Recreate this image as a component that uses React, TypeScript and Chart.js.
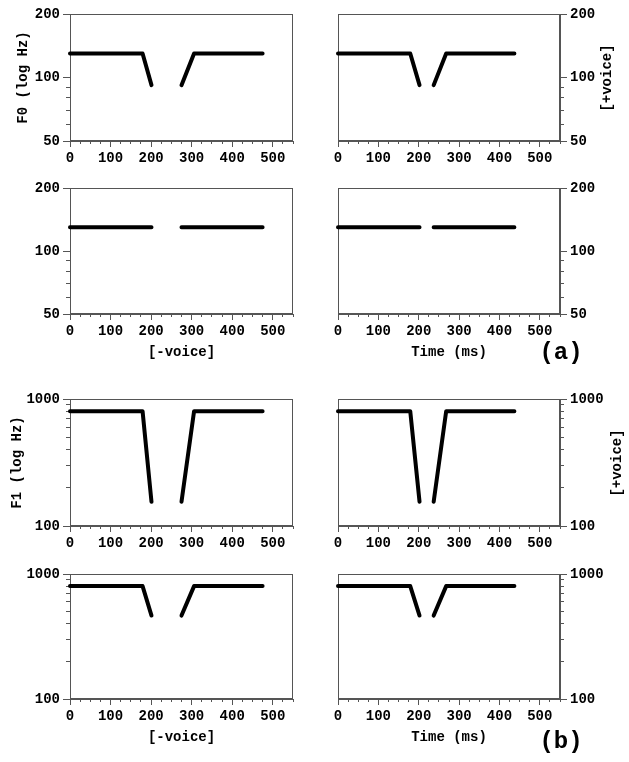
import React, { useEffect, useRef } from 'react';
import { Chart, registerables } from 'chart.js';

Chart.register(...registerables);

// ---- data ----
const X_MAJOR = [0, 100, 200, 300, 400, 500];
const X_MINOR = [25, 50, 75, 125, 150, 175, 225, 250, 275, 325, 350, 375, 425, 450, 475, 525, 550];
const F0_MAJOR = [50, 100, 200];
const F0_MINOR = [60, 70, 80, 90];
const F1_MAJOR = [100, 1000];
const F1_MINOR = [200, 300, 400, 500, 600, 700, 800, 900];

const T_MINUS = [0, 179, 201, 238, 275, 306, 475];
const T_PLUS = [0, 179, 202, 220, 237, 268, 437];
const F0_DIP: (number | null)[] = [130, 130, 92, null, 92, 130, 130];
const F0_FLAT: (number | null)[] = [130, 130, 130, null, 130, 130, 130];
const F1_DEEP: (number | null)[] = [800, 800, 155, null, 155, 800, 800];
const F1_SHALLOW: (number | null)[] = [800, 800, 465, null, 465, 800, 800];

const AXIS = '#555555';
const FONT_FAMILY = '"Liberation Mono", "DejaVu Sans Mono", monospace';
const TICK_FONT = { family: FONT_FAMILY, size: 14, weight: 'bold' as const };

type Spec = {
  left: number; top: number; width: number; height: number;
  plotLeft: number; plotRight: number; plotTop: number; plotBottom: number;
  side: 'left' | 'right';
  times: number[]; values: (number | null)[];
  yMin: number; yMax: number; yMajor: number[]; yMinor: number[];
  yTitle?: string; yTitlePad?: number;
  xTitle?: string; xTitlePad?: number;
};

const COLS = [
  { left: 0, width: 312, plotLeft: 70, plotRight: 293, side: 'left' as const },
  { left: 316, width: 313, plotLeft: 338, plotRight: 560, side: 'right' as const },
];
const ROWS = [
  { top: 0, height: 172, plotTop: 14, plotBottom: 141 },
  { top: 174, height: 202, plotTop: 188, plotBottom: 314 },
  { top: 385, height: 171, plotTop: 399, plotBottom: 526 },
  { top: 560, height: 202, plotTop: 574, plotBottom: 699 },
];

const framePlugin = {
  id: 'frame',
  beforeDatasetsDraw(chart: any) {
    const { ctx, chartArea: a } = chart;
    ctx.save();
    ctx.strokeStyle = AXIS;
    ctx.lineWidth = 1;
    const l = Math.round(a.left) + 0.5;
    const t = Math.round(a.top) + 0.5;
    const r = Math.round(a.right) - 0.5;
    const b = Math.round(a.bottom) - 0.5;
    ctx.strokeRect(l, t, r - l, b - t);
    ctx.restore();
  },
};

function Panel({ spec }: { spec: Spec }) {
  const ref = useRef<HTMLCanvasElement>(null);
  useEffect(() => {
    const s = spec;
    const padTop = s.plotTop - s.top;
    const xH = s.top + s.height - s.plotBottom;
    const yW = s.side === 'left' ? s.plotLeft - s.left : s.left + s.width - s.plotRight;
    const padL = s.side === 'left' ? 0 : s.plotLeft - s.left;
    const padR = s.side === 'left' ? s.left + s.width - s.plotRight : 0;
    const points = s.times.map((t, i) => ({ x: t, y: s.values[i] }));
    const chart = new Chart(ref.current as HTMLCanvasElement, {
      type: 'line',
      data: {
        datasets: [
          {
            data: points as any,
            xAxisID: 'x',
            yAxisID: 'y',
            borderColor: '#000',
            backgroundColor: '#000',
            borderWidth: 4,
            pointRadius: 0,
            borderCapStyle: 'round',
            borderJoinStyle: 'round',
            spanGaps: false,
            fill: false,
            tension: 0,
            clip: 10 as any,
          },
        ],
      },
      options: {
        animation: false,
        responsive: false,
        devicePixelRatio: 1,
        events: [],
        layout: { padding: { left: padL, right: padR, top: padTop, bottom: 0 } },
        plugins: { legend: { display: false }, tooltip: { enabled: false } },
        scales: {
          x: {
            type: 'linear', axis: 'x', position: 'bottom', min: 0, max: 550, weight: 1,
            afterBuildTicks: (sc: any) => { sc.ticks = X_MAJOR.map((v) => ({ value: v })); },
            afterFit: (sc: any) => { sc.height = xH; },
            grid: { drawOnChartArea: false, color: AXIS, tickLength: 6, tickWidth: 1 },
            border: { color: AXIS, width: 1 },
            ticks: { autoSkip: false, maxRotation: 0, padding: 3, color: '#000', font: TICK_FONT, callback: (v: any) => String(v) },
            title: s.xTitle
              ? { display: true, text: s.xTitle, color: '#000', font: TICK_FONT, padding: { top: 0, bottom: s.xTitlePad ?? 15 } }
              : { display: false },
          } as any,
          xMinor: {
            type: 'linear', axis: 'x', position: 'bottom', min: 0, max: 550, weight: 0,
            afterBuildTicks: (sc: any) => { sc.ticks = X_MINOR.map((v) => ({ value: v })); },
            afterFit: (sc: any) => { sc.height = 0; },
            grid: { drawOnChartArea: false, color: AXIS, tickLength: 3, tickWidth: 1 },
            border: { display: false },
            ticks: { autoSkip: false, maxRotation: 0, padding: 0, callback: () => '' },
          } as any,
          y: {
            type: 'logarithmic', axis: 'y', position: s.side, min: s.yMin, max: s.yMax, weight: 1,
            afterBuildTicks: (sc: any) => { sc.ticks = s.yMajor.map((v) => ({ value: v })); },
            afterFit: (sc: any) => { sc.width = yW; },
            grid: { drawOnChartArea: false, color: AXIS, tickLength: 7, tickWidth: 1 },
            border: { color: AXIS, width: 1 },
            ticks: { autoSkip: false, padding: 3, color: '#000', font: TICK_FONT, callback: (v: any) => String(v) },
            title: s.yTitle
              ? { display: true, text: s.yTitle, color: '#000', font: TICK_FONT, padding: { top: s.yTitlePad ?? 10, bottom: 0 } }
              : { display: false },
          } as any,
          yMinor: {
            type: 'logarithmic', axis: 'y', position: s.side, min: s.yMin, max: s.yMax, weight: 0,
            afterBuildTicks: (sc: any) => { sc.ticks = s.yMinor.map((v) => ({ value: v })); },
            afterFit: (sc: any) => { sc.width = 0; },
            grid: { drawOnChartArea: false, color: AXIS, tickLength: 4, tickWidth: 1 },
            border: { display: false },
            ticks: { autoSkip: false, padding: 0, callback: () => '' },
          } as any,
        },
      },
      plugins: [framePlugin],
    });
    return () => chart.destroy();
  }, [spec]);
  return (
    <canvas
      ref={ref}
      width={spec.width}
      height={spec.height}
      style={{ position: 'absolute', left: spec.left, top: spec.top, width: spec.width, height: spec.height }}
    />
  );
}

function makeSpec(row: number, col: number, extra: Partial<Spec> & { times: number[]; values: (number | null)[]; yMin: number; yMax: number; yMajor: number[]; yMinor: number[] }): Spec {
  const c = COLS[col];
  const r = ROWS[row];
  return {
    left: c.left, width: c.width, plotLeft: c.plotLeft, plotRight: c.plotRight, side: c.side,
    top: r.top, height: r.height, plotTop: r.plotTop, plotBottom: r.plotBottom,
    ...extra,
  } as Spec;
}

const F0_AXIS = { yMin: 50, yMax: 200, yMajor: F0_MAJOR, yMinor: F0_MINOR };
const F1_AXIS = { yMin: 100, yMax: 1000, yMajor: F1_MAJOR, yMinor: F1_MINOR };

const SPECS: Spec[] = [
  makeSpec(0, 0, { ...F0_AXIS, times: T_MINUS, values: F0_DIP, yTitle: 'F0 (log Hz)', yTitlePad: 15 }),
  makeSpec(0, 1, { ...F0_AXIS, times: T_PLUS, values: F0_DIP }),
  makeSpec(1, 0, { ...F0_AXIS, times: T_MINUS, values: F0_FLAT, xTitle: '[-voice]', xTitlePad: 15 }),
  makeSpec(1, 1, { ...F0_AXIS, times: T_PLUS, values: F0_FLAT, xTitle: 'Time (ms)', xTitlePad: 15 }),
  makeSpec(2, 0, { ...F1_AXIS, times: T_MINUS, values: F1_DEEP, yTitle: 'F1 (log Hz)', yTitlePad: 9 }),
  makeSpec(2, 1, { ...F1_AXIS, times: T_PLUS, values: F1_DEEP }),
  makeSpec(3, 0, { ...F1_AXIS, times: T_MINUS, values: F1_SHALLOW, xTitle: '[-voice]', xTitlePad: 16 }),
  makeSpec(3, 1, { ...F1_AXIS, times: T_PLUS, values: F1_SHALLOW, xTitle: 'Time (ms)', xTitlePad: 16 }),
];

const labelBase: React.CSSProperties = {
  position: 'absolute',
  fontFamily: FONT_FAMILY,
  color: '#000',
  whiteSpace: 'nowrap',
  lineHeight: 1,
};

export default function App() {
  return (
    <div style={{ position: 'absolute', left: 0, top: 0, width: 629, height: 762, background: '#fff', overflow: 'hidden' }}>
      {SPECS.map((s, i) => (
        <Panel key={i} spec={s} />
      ))}
      <div style={{ ...labelBase, left: 607, top: 78, fontSize: 14, fontWeight: 'bold', transform: 'translate(-50%, -50%) rotate(-90deg)' }}>[+voice]</div>
      <div style={{ ...labelBase, left: 617, top: 463, fontSize: 14, fontWeight: 'bold', transform: 'translate(-50%, -50%) rotate(-90deg)' }}>[+voice]</div>
      <div style={{ ...labelBase, left: 561, top: 353, fontSize: 24, fontWeight: 'bold', transform: 'translate(-50%, -50%)' }}>(a)</div>
      <div style={{ ...labelBase, left: 561, top: 742, fontSize: 24, fontWeight: 'bold', transform: 'translate(-50%, -50%)' }}>(b)</div>
    </div>
  );
}
